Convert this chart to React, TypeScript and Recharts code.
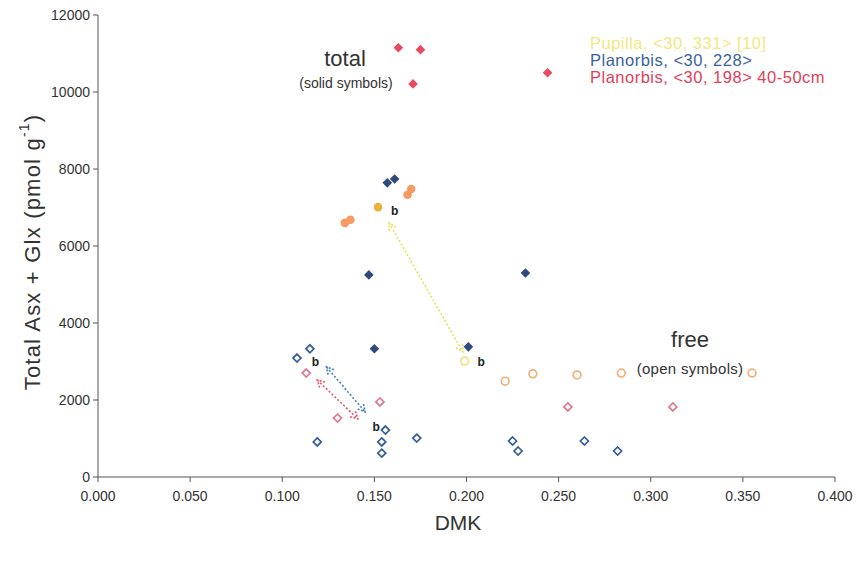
import React from 'react'
import {
  ScatterChart,
  Scatter,
  XAxis,
  YAxis,
  ReferenceLine,
  ReferenceDot,
} from 'recharts'

const FONT = 'Liberation Sans, Arial, Helvetica, sans-serif'

// x ticks (DMK) and y ticks
const xTicks = [0, 0.05, 0.1, 0.15, 0.2, 0.25, 0.3, 0.35, 0.4]
const yTicks = [0, 2000, 4000, 6000, 8000, 10000, 12000]

// total (solid symbols)
const planorbis198Total = [
  { x: 0.163, y: 11150 },
  { x: 0.175, y: 11100 },
  { x: 0.171, y: 10210 },
  { x: 0.244, y: 10500 },
]
const planorbis228Total = [
  { x: 0.157, y: 7640 },
  { x: 0.161, y: 7740 },
  { x: 0.147, y: 5250 },
  { x: 0.150, y: 3330 },
  { x: 0.232, y: 5300 },
  { x: 0.201, y: 3380 },
]
const pupillaTotal = [
  { x: 0.134, y: 6600 },
  { x: 0.137, y: 6680 },
  { x: 0.168, y: 7330 },
  { x: 0.170, y: 7480 },
]
const pupillaTotalB = [{ x: 0.152, y: 7010 }]

// free (open symbols)
const pupillaFree = [
  { x: 0.221, y: 2490 },
  { x: 0.236, y: 2680 },
  { x: 0.260, y: 2650 },
  { x: 0.284, y: 2700 },
  { x: 0.355, y: 2700 },
]
const pupillaFreeB = [{ x: 0.199, y: 3010 }]
const planorbis198Free = [
  { x: 0.113, y: 2700 },
  { x: 0.153, y: 1950 },
  { x: 0.130, y: 1530 },
  { x: 0.255, y: 1820 },
  { x: 0.312, y: 1820 },
]
const planorbis228Free = [
  { x: 0.108, y: 3090 },
  { x: 0.115, y: 3330 },
  { x: 0.119, y: 910 },
  { x: 0.156, y: 1220 },
  { x: 0.154, y: 910 },
  { x: 0.154, y: 620 },
  { x: 0.173, y: 1010 },
  { x: 0.225, y: 935 },
  { x: 0.228, y: 675 },
  { x: 0.264, y: 935 },
  { x: 0.282, y: 675 },
]

// dotted double arrows between free and total
const arrows = [
  { from: { x: 0.158, y: 6600 }, to: { x: 0.198, y: 3250 }, color: '#F0DC60' },
  { from: { x: 0.124, y: 2860 }, to: { x: 0.145, y: 1690 }, color: '#4A80C0' },
  { from: { x: 0.119, y: 2520 }, to: { x: 0.141, y: 1510 }, color: '#E05A70' },
]
const bLabels = [
  { x: 0.161, y: 6910 },
  { x: 0.208, y: 2990 },
  { x: 0.118, y: 2990 },
  { x: 0.151, y: 1300 },
]

const legendItems = [
  { text: 'Pupilla, <30, 331> [10]', color: '#F4E77E' },
  { text: 'Planorbis, <30, 228>', color: '#3A5F9E' },
  { text: 'Planorbis, <30, 198> 40-50cm', color: '#E2405A' },
]

const diamond = (cx: number, cy: number, r: number) =>
  `M${cx},${cy - r}L${cx + r},${cy}L${cx},${cy + r}L${cx - r},${cy}Z`

const solidDiamond = (color: string) => (p: any) => (
  <path d={diamond(p.cx, p.cy, 4.8)} fill={color} stroke="none" />
)
const openDiamond = (color: string) => (p: any) => (
  <path d={diamond(p.cx, p.cy, 4)} fill="#fff" stroke={color} strokeWidth={1.7} />
)
const solidCircle = (color: string) => (p: any) => (
  <circle cx={p.cx} cy={p.cy} r={4.3} fill={color} stroke="none" />
)
const openCircle = (color: string) => (p: any) => (
  <circle cx={p.cx} cy={p.cy} r={3.9} fill="#fff" stroke={color} strokeWidth={1.7} />
)

const arrowShape = (color: string) => (p: any) => {
  const { x1, y1, x2, y2 } = p
  const a = Math.atan2(y2 - y1, x2 - x1)
  const L = 8
  const w = 0.5
  const head = (x: number, y: number, dir: number) =>
    `M${x + L * Math.cos(dir + w)},${y + L * Math.sin(dir + w)}L${x},${y}L${x + L * Math.cos(dir - w)},${y + L * Math.sin(dir - w)}`
  return (
    <g>
      <line x1={x1} y1={y1} x2={x2} y2={y2} stroke={color} strokeWidth={1.6} strokeDasharray="2 2" />
      <path d={head(x1, y1, a)} fill="none" stroke={color} strokeWidth={1.6} strokeDasharray="2 1.5" />
      <path d={head(x2, y2, a + Math.PI)} fill="none" stroke={color} strokeWidth={1.6} strokeDasharray="2 1.5" />
    </g>
  )
}

export default function App() {
  return (
    <div style={{ position: 'absolute', left: 0, top: 0, width: 859, height: 561, background: '#fff' }}>
      <ScatterChart width={859} height={561} margin={{ top: 15, right: 24, left: 0, bottom: 0 }}>
        <XAxis
          type="number"
          dataKey="x"
          domain={[0, 0.4]}
          ticks={xTicks}
          tickFormatter={(v: number) => v.toFixed(3)}
          height={84}
          tickSize={5}
          tickMargin={9}
          axisLine={{ stroke: '#555' }}
          tickLine={{ stroke: '#555' }}
          tick={{ fill: '#333', fontSize: 14, fontFamily: FONT }}
          allowDataOverflow
        />
        <YAxis
          type="number"
          dataKey="y"
          domain={[0, 12000]}
          ticks={yTicks}
          width={98}
          tickSize={5}
          tickMargin={3}
          axisLine={{ stroke: '#555' }}
          tickLine={{ stroke: '#555' }}
          tick={{ fill: '#333', fontSize: 14, fontFamily: FONT }}
          allowDataOverflow
        />
        {arrows.map((a, i) => (
          <ReferenceLine
            key={`arrow-${i}`}
            segment={[a.from, a.to]}
            stroke={a.color}
            shape={arrowShape(a.color)}
          />
        ))}
        <Scatter data={planorbis228Free} shape={openDiamond('#355C98')} isAnimationActive={false} />
        <Scatter data={planorbis198Free} shape={openDiamond('#E27A90')} isAnimationActive={false} />
        <Scatter data={pupillaFree} shape={openCircle('#F0B27A')} isAnimationActive={false} />
        <Scatter data={pupillaFreeB} shape={openCircle('#F3E27C')} isAnimationActive={false} />
        <Scatter data={planorbis198Total} shape={solidDiamond('#E84A5F')} isAnimationActive={false} />
        <Scatter data={pupillaTotal} shape={solidCircle('#F49A62')} isAnimationActive={false} />
        <Scatter data={pupillaTotalB} shape={solidCircle('#E9B23C')} isAnimationActive={false} />
        <Scatter data={planorbis228Total} shape={solidDiamond('#2D4A7A')} isAnimationActive={false} />
        {bLabels.map((b, i) => (
          <ReferenceDot
            key={`b-${i}`}
            x={b.x}
            y={b.y}
            r={0}
            shape={(p: any) => (
              <text x={p.cx} y={p.cy} dy={4} textAnchor="middle" fontSize={12} fontWeight={600} fill="#222" fontFamily={FONT}>
                b
              </text>
            )}
          />
        ))}
      </ScatterChart>
      <svg
        width={859}
        height={561}
        style={{ position: 'absolute', left: 0, top: 0, pointerEvents: 'none' }}
        fontFamily={FONT}
      >
        <text x={32} y={252} transform="rotate(-90 32 252)" textAnchor="middle" dominantBaseline="central" fontSize={22} letterSpacing={1.2} fill="#333">
          Total Asx + Glx (pmol g
          <tspan fontSize={14} dy={-8}>-1</tspan>
          <tspan dy={8}>)</tspan>
        </text>
        <text x={458} y={530} textAnchor="middle" fontSize={21} fill="#333">DMK</text>
        <text x={345} y={66} textAnchor="middle" fontSize={22} fill="#333">total</text>
        <text x={346} y={88} textAnchor="middle" fontSize={14} fill="#333">(solid symbols)</text>
        <text x={690} y={347} textAnchor="middle" fontSize={22} fill="#333">free</text>
        <text x={690} y={374} textAnchor="middle" fontSize={15} letterSpacing={0.3} fill="#333">(open symbols)</text>
        {legendItems.map((l, i) => (
          <text key={l.text} x={590} y={49 + i * 17} fontSize={16.5} letterSpacing={0.5} fill={l.color}>
            {l.text}
          </text>
        ))}
      </svg>
    </div>
  )
}
